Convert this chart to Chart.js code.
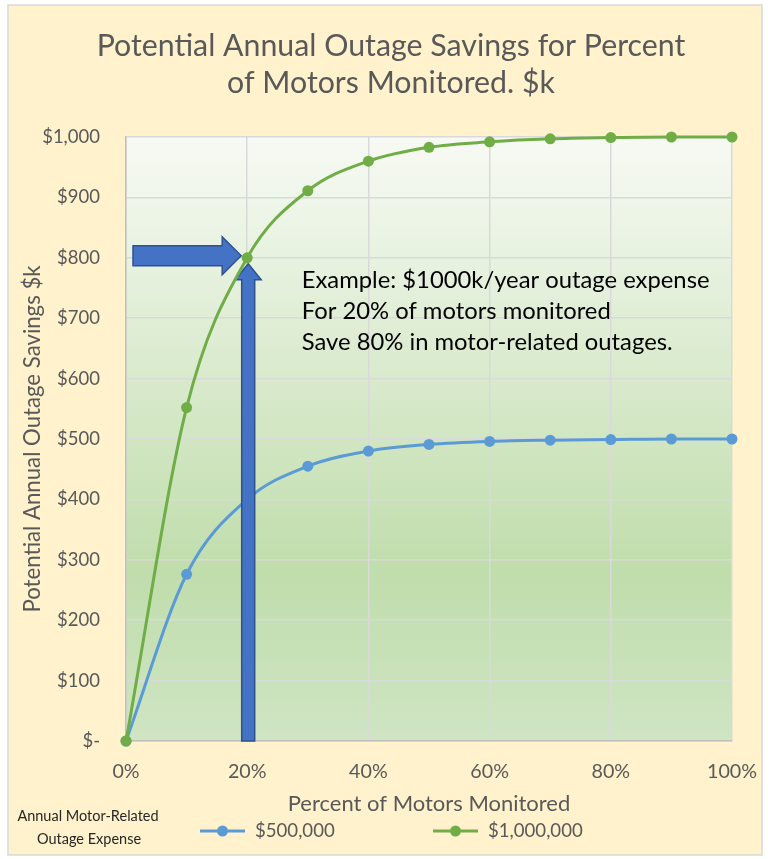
<!DOCTYPE html>
<html>
<head>
<meta charset="utf-8">
<script src="https://cdn.jsdelivr.net/npm/chart.js@4.4.0/dist/chart.umd.min.js"></script>
<style>
  html, body { margin: 0; padding: 0; background: #fff; }
</style>
</head>
<body>
<canvas id="myChart" width="770" height="859"></canvas>
<script>
'use strict';

// data
const percentMonitored = [0, 0.1, 0.2, 0.3, 0.4, 0.5, 0.6, 0.7, 0.8, 0.9, 1.0];
const savings500k  = [0, 276, 400, 455, 480, 491, 496, 498, 499, 500, 500];
const savings1000k = [0, 552, 800, 911, 960, 983, 992, 997, 999, 1000, 1000];
const seriesLabels = ['$500,000', '$1,000,000'];
const xTickLabels = ['0%', '20%', '40%', '60%', '80%', '100%'];
const yTickLabels = ['$-', '$100', '$200', '$300', '$400', '$500', '$600', '$700', '$800', '$900', '$1,000'];
const titleLines = ['Potential Annual Outage Savings for Percent', 'of Motors Monitored. $k'];
const noteLines = ['Example: $1000k/year outage expense', 'For 20% of motors monitored', 'Save 80% in motor-related outages.'];
const legendTitle = ['Annual Motor-Related', 'Outage Expense'];

const FONT = 'Lato, "Open Sans", sans-serif';
const GREY = '#595959';
const BLUE = '#5B9BD5';
const GREEN = '#70AD47';

// pick a font size so a text gets the width it has in the picture
const measureCtx = document.createElement('canvas').getContext('2d');
function fitSize(text, width) {
  measureCtx.font = '100px ' + FONT;
  return Math.round(1000 * width / measureCtx.measureText(text).width) / 10;
}

const titleSize = fitSize(titleLines[0], 589);
const yTickSize = fitSize('$1,000', 58);
const xTickSize = fitSize('100%', 50);
const xTitleSize = fitSize('Percent of Motors Monitored', 283);
const yTitleSize = fitSize('Potential Annual Outage Savings $k', 348);
const noteSize = fitSize(noteLines[0], 407);
const legendSize = fitSize('$1,000,000', 95);
const legendTitleSize = 14.5;

function toPoints(values) {
  return values.map(function (v, i) { return { x: percentMonitored[i], y: v }; });
}

function arrowRight(ctx, x0, x1, yc, bodyH, headH, headL) {
  ctx.beginPath();
  ctx.moveTo(x0, yc - bodyH / 2);
  ctx.lineTo(x1 - headL, yc - bodyH / 2);
  ctx.lineTo(x1 - headL, yc - headH / 2);
  ctx.lineTo(x1, yc);
  ctx.lineTo(x1 - headL, yc + headH / 2);
  ctx.lineTo(x1 - headL, yc + bodyH / 2);
  ctx.lineTo(x0, yc + bodyH / 2);
  ctx.closePath();
  ctx.fill();
  ctx.stroke();
}

function arrowUp(ctx, xc, y0, y1, bodyW, headW, headL) {
  ctx.beginPath();
  ctx.moveTo(xc - bodyW / 2, y0);
  ctx.lineTo(xc - bodyW / 2, y1 + headL);
  ctx.lineTo(xc - headW / 2, y1 + headL);
  ctx.lineTo(xc, y1);
  ctx.lineTo(xc + headW / 2, y1 + headL);
  ctx.lineTo(xc + bodyW / 2, y1 + headL);
  ctx.lineTo(xc + bodyW / 2, y0);
  ctx.closePath();
  ctx.fill();
  ctx.stroke();
}

const decorPlugin = {
  id: 'decor',
  beforeDraw: function (chart) {
    const ctx = chart.ctx;
    const a = chart.chartArea;
    ctx.save();
    // cream chart frame
    ctx.fillStyle = '#FFF2CC';
    ctx.fillRect(8, 5, 754, 850);
    ctx.strokeStyle = '#D9D9D9';
    ctx.lineWidth = 1.5;
    ctx.strokeRect(8, 5, 754, 850);
    // plot area gradient
    const g = ctx.createLinearGradient(0, a.top, 0, a.bottom);
    g.addColorStop(0, '#F7FAF4');
    g.addColorStop(0.72, '#C0DDAC');
    g.addColorStop(1, '#CFE5C3');
    ctx.fillStyle = g;
    ctx.fillRect(a.left, a.top, a.right - a.left, a.bottom - a.top);
    // title
    ctx.fillStyle = GREY;
    ctx.textAlign = 'center';
    ctx.textBaseline = 'middle';
    ctx.font = titleSize + 'px ' + FONT;
    ctx.fillText(titleLines[0], 391, 46);
    ctx.fillText(titleLines[1], 391, 83);
    ctx.restore();
  },
  afterDatasetDraw: function (chart, args) {
    // arrows sit above the blue series, below the green one
    if (args.index !== 1) return;
    const ctx = chart.ctx;
    const xs = chart.scales.x;
    const ys = chart.scales.y;
    const px = xs.getPixelForValue(0.2);
    const py = ys.getPixelForValue(800);
    ctx.save();
    ctx.fillStyle = '#4472C4';
    ctx.strokeStyle = '#2F528F';
    ctx.lineWidth = 1.5;
    arrowRight(ctx, chart.chartArea.left + 7, px - 6, py - 2, 20, 38, 19);
    arrowUp(ctx, px + 1, ys.getPixelForValue(0), py + 6, 13, 26, 16);
    ctx.restore();
  },
  afterDraw: function (chart) {
    const ctx = chart.ctx;
    const xs = chart.scales.x;
    const ys = chart.scales.y;
    ctx.save();
    // note text
    ctx.fillStyle = '#000';
    ctx.textBaseline = 'middle';
    ctx.textAlign = 'left';
    ctx.font = noteSize + 'px ' + FONT;
    const nx = xs.getPixelForValue(0.29);
    const ny = ys.getPixelForValue(763);
    noteLines.forEach(function (t, i) { ctx.fillText(t, nx, ny + i * 31); });

    // legend
    ctx.textAlign = 'center';
    ctx.fillStyle = '#262626';
    ctx.font = legendTitleSize + 'px ' + FONT;
    ctx.fillText(legendTitle[0], 88, 816);
    ctx.fillText(legendTitle[1], 89, 839);

    const items = [
      { label: seriesLabels[0], color: BLUE, x: 200 },
      { label: seriesLabels[1], color: GREEN, x: 433 }
    ];
    ctx.font = legendSize + 'px ' + FONT;
    ctx.textAlign = 'left';
    items.forEach(function (it) {
      ctx.strokeStyle = it.color;
      ctx.lineWidth = 3;
      ctx.beginPath();
      ctx.moveTo(it.x, 831);
      ctx.lineTo(it.x + 45, 831);
      ctx.stroke();
      ctx.fillStyle = it.color;
      ctx.beginPath();
      ctx.arc(it.x + 22.5, 831, 5.5, 0, Math.PI * 2);
      ctx.fill();
      ctx.fillStyle = GREY;
      ctx.fillText(it.label, it.x + 55, 831);
    });
    ctx.restore();
  }
};

const ctx = document.getElementById('myChart');
new Chart(ctx, {
  type: 'line',
  data: {
    datasets: [
      {
        label: seriesLabels[1],
        data: toPoints(savings1000k),
        borderColor: GREEN,
        backgroundColor: GREEN,
        borderWidth: 3,
        pointRadius: 5.5,
        pointBorderWidth: 0,
        clip: false,
        cubicInterpolationMode: 'monotone'
      },
      {
        label: seriesLabels[0],
        data: toPoints(savings500k),
        borderColor: BLUE,
        backgroundColor: BLUE,
        borderWidth: 3,
        pointRadius: 5.5,
        pointBorderWidth: 0,
        clip: false,
        cubicInterpolationMode: 'monotone'
      }
    ]
  },
  options: {
    responsive: false,
    animation: false,
    layout: { padding: { left: 10, right: 38, top: 137, bottom: 44 } },
    plugins: {
      legend: { display: false },
      tooltip: { enabled: false },
      title: { display: false }
    },
    scales: {
      x: {
        type: 'linear',
        min: 0,
        max: 1,
        afterFit: function (scale) { scale.height = 74; },
        ticks: {
          stepSize: 0.2,
          padding: 0,
          color: GREY,
          font: { family: FONT, size: xTickSize },
          callback: function (v) { return xTickLabels[Math.round(v * 5)]; }
        },
        // invisible tick marks give the gap below the axis
        grid: { color: '#D9D9D9', lineWidth: 1.5, drawTicks: true, tickLength: 19, tickColor: 'rgba(0,0,0,0)' },
        border: { color: '#BFBFBF', width: 1.5 },
        title: {
          display: true,
          text: 'Percent of Motors Monitored',
          color: GREY,
          font: { family: FONT, size: xTitleSize },
          padding: { top: 0, bottom: 11 - 0.6 * xTitleSize }
        }
      },
      y: {
        min: 0,
        max: 1000,
        afterFit: function (scale) { scale.width = 116; },
        ticks: {
          stepSize: 100,
          padding: 26,
          color: GREY,
          font: { family: FONT, size: yTickSize },
          callback: function (v) { return yTickLabels[Math.round(v / 100)]; }
        },
        grid: { color: '#D9D9D9', lineWidth: 1.5, drawTicks: false },
        border: { color: '#BFBFBF', width: 1.5 },
        title: {
          display: true,
          text: 'Potential Annual Outage Savings $k',
          color: GREY,
          font: { family: FONT, size: yTitleSize },
          padding: { top: 23 - 0.6 * yTitleSize, bottom: 0 }
        }
      }
    }
  },
  plugins: [decorPlugin]
});
</script>
</body>
</html>
